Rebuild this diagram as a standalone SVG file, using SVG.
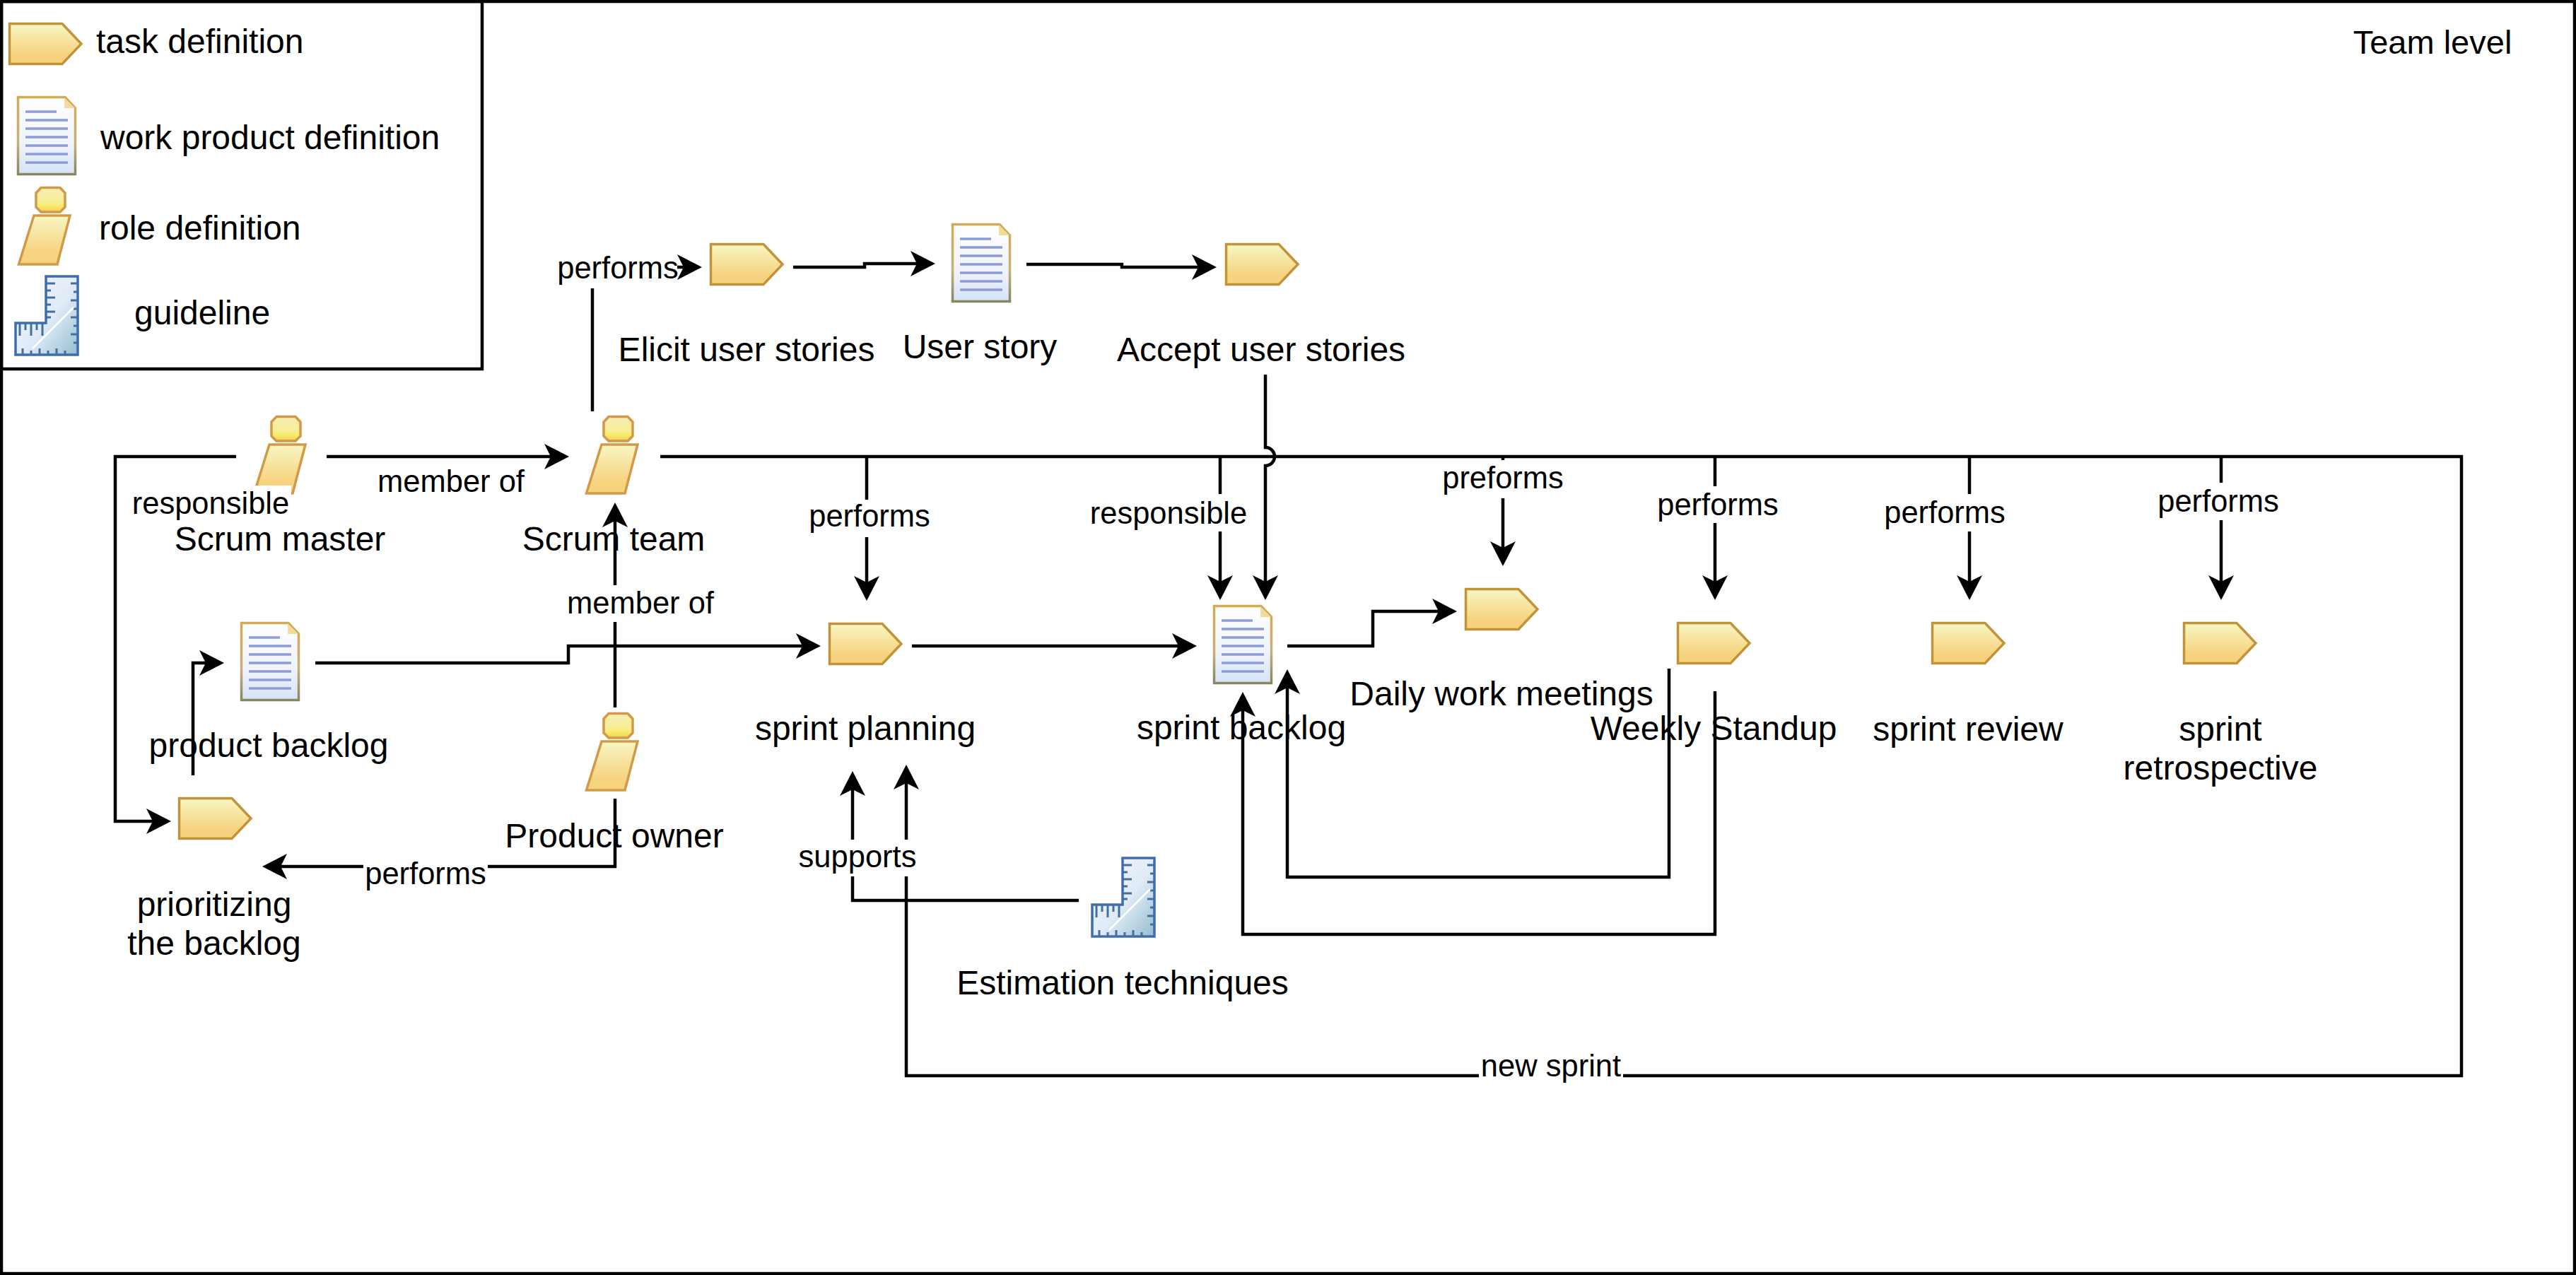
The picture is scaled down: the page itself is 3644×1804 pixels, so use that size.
<svg xmlns="http://www.w3.org/2000/svg" width="3644" height="1804" viewBox="0 0 3644 1804">
<style>
text{font-family:"Liberation Sans",Arial,sans-serif;fill:#000}
.n{font-size:48px;text-anchor:middle}
.l{font-size:48px}
.e{font-size:43.5px;text-anchor:middle}
.c path{fill:none;stroke:#000;stroke-width:4.5;marker-end:url(#arrow)}
.bg{fill:#fff}
.frame{fill:none;stroke:#000;stroke-width:4.5}
</style>
<defs>
<marker id="arrow" markerUnits="userSpaceOnUse" markerWidth="40" markerHeight="40" viewBox="0 -20 40 40" refX="27" refY="0" orient="auto"><path d="M0,-18 L35,0 L0,18 L9,0 Z" fill="#000"/></marker>
<linearGradient id="gt" x1="0" y1="0" x2="0" y2="1"><stop offset="0" stop-color="#f9f6c4"/><stop offset="0.75" stop-color="#f6d480"/><stop offset="1" stop-color="#f6d27a"/></linearGradient>
<linearGradient id="gd" x1="0" y1="0" x2="0" y2="1"><stop offset="0" stop-color="#ffffff"/><stop offset="0.6" stop-color="#f0f3fc"/><stop offset="1" stop-color="#d5e3f8"/></linearGradient>
<linearGradient id="gds" x1="0" y1="0" x2="0" y2="1"><stop offset="0" stop-color="#d2aa55"/><stop offset="0.6" stop-color="#c4b07a"/><stop offset="1" stop-color="#87875f"/></linearGradient>
<linearGradient id="gh" x1="0" y1="0" x2="0" y2="1"><stop offset="0" stop-color="#f5eeb8"/><stop offset="0.6" stop-color="#f7ee90"/><stop offset="0.8" stop-color="#f8e860"/><stop offset="1" stop-color="#f0c860"/></linearGradient>
<linearGradient id="gg" x1="0" y1="0" x2="1" y2="1"><stop offset="0" stop-color="#f4f4fb"/><stop offset="0.55" stop-color="#e0ebf7"/><stop offset="1" stop-color="#93bdd0"/></linearGradient>
<symbol id="task" width="105" height="60" viewBox="0 0 105 60" overflow="visible"><path d="M1.5,1.5 H76 L103,30 L76,58.5 H1.5 Z" fill="url(#gt)" stroke="#c2943a" stroke-width="3.5"/></symbol>
<symbol id="doc" width="84" height="112" viewBox="0 0 84 112" overflow="visible"><path d="M1.5,1.5 H68 L82.5,17 V110.5 H1.5 Z" fill="url(#gd)" stroke="url(#gds)" stroke-width="3.5"/><path d="M67,2 L82,17 H67 Z" fill="#f3dc9a"/>
<path d="M12,22 H56 M12,34 H72 M12,46 H72 M12,58 H72 M12,70 H72 M12,82 H72 M12,94 H72" fill="none" stroke="#8c9dd6" stroke-width="3.5"/></symbol>
<symbol id="role" width="76" height="112" viewBox="0 0 76 112" overflow="visible"><path d="M33,1.5 H60 L67,9 V29 L60,36 H33 L26,29 V9 Z" fill="url(#gh)" stroke="#d29a48" stroke-width="3.5"/><path d="M23,41 H74 L56,110 H1.5 Z" fill="url(#gt)" stroke="#d29a48" stroke-width="3.5"/></symbol>
<symbol id="guide" width="92" height="115" viewBox="0 0 92 115" overflow="visible"><path d="M45,2 H90 V113 H2 V68 H45 Z" fill="url(#gg)" stroke="#3f6cae" stroke-width="3.5"/>
<path d="M45,12 H58 M45,22 H52 M45,32 H58 M45,42 H52 M45,52 H58 M45,60 H52 M90,12 H80 M90,24 H84 M90,36 H80 M90,48 H84 M90,60 H80 M90,72 H84 M90,84 H80 M90,96 H84 M8,68 V86 M16,68 V78 M24,68 V86 M32,68 V78 M40,68 V86 M12,113 V104 M24,113 V107 M36,113 V104 M48,113 V107 M60,113 V104 M72,113 V107" fill="none" stroke="#44709f" stroke-width="3"/><path d="M26,104 L84,46" stroke="#fff" stroke-width="2.5"/></symbol>
</defs>
<rect width="3644" height="1804" fill="#fff"/>
<rect id="frame" class="frame" x="2" y="2" width="3640" height="1800"/>
<g id="legend">
<rect class="frame" x="2" y="2" width="680" height="520"/>
<use href="#task" x="12" y="32"/><text class="l" x="136" y="75">task definition</text>
<use href="#doc" x="24" y="136"/><text class="l" x="142" y="211">work product definition</text>
<use href="#role" x="25" y="264"/><text class="l" x="140" y="339">role definition</text>
<use href="#guide" x="20" y="389"/><text class="l" x="190" y="459">guideline</text>
</g>
<text id="team-level" x="3441" y="76" style="font-size:47px;text-anchor:middle">Team level</text>
<g id="connectors" class="c">
<path d="M838 582V378H985"/>
<path d="M1122 378H1223V373H1315"/>
<path d="M1452 374H1587V378H1713"/>
<path d="M934 646H3482V1522H1282V1090"/>
<path d="M334 646H163V1162H234"/>
<path d="M462 646H797"/>
<path d="M870 1001V719"/>
<path d="M870 1130V1226H379"/>
<path d="M273 1097V938H309"/>
<path d="M446 938H804V914H1153"/>
<path d="M1290 914H1685"/>
<path d="M1821 914H1942V865H2053"/>
<path d="M1226 646V842"/>
<path d="M1726 646V841"/>
<path d="M1790 530V633A13 13 0 0 1 1790 659V841"/>
<path d="M2126 646V793"/>
<path d="M2426 646V841"/>
<path d="M2786 646V841"/>
<path d="M3142 646V841"/>
<path d="M2361 946V1241H1821V955"/>
<path d="M2426 978V1322H1758V987"/>
<path d="M1526 1274H1206V1099"/>
</g>
<g id="elicit-user-stories"><use href="#task" x="1004" y="344"/><text class="n" x="1056" y="511">Elicit user stories</text></g>
<g id="user-story"><use href="#doc" x="1346" y="316"/><text class="n" x="1386" y="507">User story</text></g>
<g id="accept-user-stories"><use href="#task" x="1733" y="344"/><text class="n" x="1784" y="511">Accept user stories</text></g>
<g id="scrum-master"><use href="#role" x="358" y="588"/><text class="n" x="396" y="779">Scrum master</text></g>
<g id="scrum-team"><use href="#role" x="828" y="588"/><text class="n" x="868" y="779">Scrum team</text></g>
<g id="product-backlog"><use href="#doc" x="340" y="880"/><text class="n" x="380" y="1071">product backlog</text></g>
<g id="product-owner"><use href="#role" x="828" y="1008"/><text class="n" x="869" y="1199">Product owner</text></g>
<g id="prioritizing"><use href="#task" x="252" y="1128"/><text class="n" x="303" y="1296">prioritizing</text><text class="n" x="303" y="1351">the backlog</text></g>
<g id="sprint-planning"><use href="#task" x="1172" y="881"/><text class="n" x="1224" y="1047">sprint planning</text></g>
<g id="sprint-backlog"><use href="#doc" x="1716" y="856"/><text class="n" x="1756" y="1046">sprint backlog</text></g>
<g id="daily-work-meetings"><use href="#task" x="2072" y="832"/><text class="n" x="2124" y="998">Daily work meetings</text></g>
<g id="weekly-standup"><use href="#task" x="2372" y="880"/><text class="n" x="2424" y="1047">Weekly Standup</text></g>
<g id="sprint-review"><use href="#task" x="2732" y="880"/><text class="n" x="2784" y="1048">sprint review</text></g>
<g id="sprint-retrospective"><use href="#task" x="3088" y="880"/><text class="n" x="3141" y="1048">sprint</text><text class="n" x="3141" y="1103">retrospective</text></g>
<g id="estimation-techniques"><use href="#guide" x="1543" y="1212"/><text class="n" x="1588" y="1407">Estimation techniques</text></g>
<g id="edge-labels">
<rect class="bg" x="786" y="356" width="172" height="52"/><text class="e" x="874" y="394">performs</text>
<rect class="bg" x="184" y="687" width="228" height="52"/><text class="e" x="298" y="727">responsible</text>
<rect class="bg" x="531" y="657" width="215" height="52"/><text class="e" x="638" y="696">member of</text>
<rect class="bg" x="799" y="828" width="215" height="52"/><text class="e" x="906" y="868">member of</text>
<rect class="bg" x="514" y="1212" width="176" height="52"/><text class="e" x="602" y="1251">performs</text>
<rect class="bg" x="1142" y="707" width="176" height="53"/><text class="e" x="1230" y="745">performs</text>
<rect class="bg" x="1540" y="699" width="227" height="53"/><text class="e" x="1653" y="741">responsible</text>
<rect class="bg" x="2038" y="651" width="176" height="54"/><text class="e" x="2126" y="691">preforms</text>
<rect class="bg" x="2342" y="688" width="176" height="52"/><text class="e" x="2430" y="729">performs</text>
<rect class="bg" x="2664" y="699" width="174" height="53"/><text class="e" x="2751" y="740">performs</text>
<rect class="bg" x="3051" y="683" width="175" height="53"/><text class="e" x="3138" y="724">performs</text>
<rect class="bg" x="1128" y="1188" width="172" height="52"/><text class="e" x="1213" y="1227">supports</text>
<rect class="bg" x="2092" y="1490" width="204" height="52"/><text class="e" x="2194" y="1523">new sprint</text>
</g>
</svg>
